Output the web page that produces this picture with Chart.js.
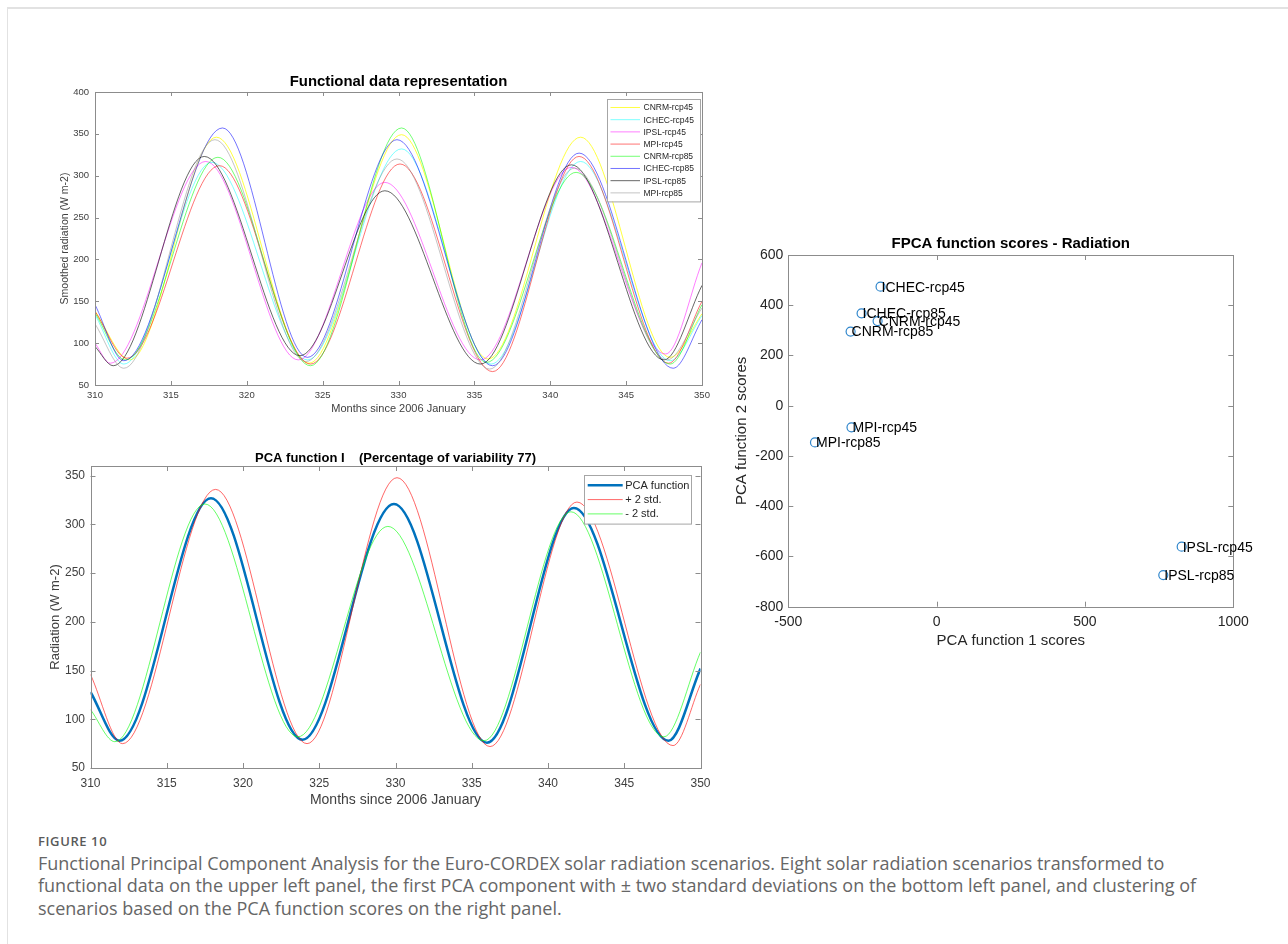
<!DOCTYPE html>
<html>
<head>
<meta charset="utf-8">
<script src="https://cdn.jsdelivr.net/npm/chart.js@4.4.0/dist/chart.umd.min.js"></script>
<style>
  body { margin: 0; background: #fff; width: 1288px; height: 944px; overflow: hidden; position: relative; }
  .frame { position: absolute; left: 7px; top: 7px; width: 1300px; height: 960px; border-top: 2px solid #e2e2e2; border-left: 1px solid #e2e2e2; }
  canvas { position: absolute; }
  #c1 { left: 40px; top: 70px; }
  #c2 { left: 40px; top: 440px; }
  #c3 { left: 730px; top: 230px; }
  #cap { position: absolute; left: 38px; top: 830px; color: #666; font-family: 'Open Sans', sans-serif; white-space: nowrap; }
  #cap .fig { font-size: 13px; font-weight: 600; letter-spacing: 0.6px; height: 22px; line-height: 22px; color: #5a5a5a; }
  #cap .txt { font-size: 18px; line-height: 22.3px; }
</style>
</head>
<body>
<div class="frame"></div>
<canvas id="c1" width="680" height="350"></canvas>
<canvas id="c2" width="680" height="375"></canvas>
<canvas id="c3" width="540" height="430"></canvas>
<div id="cap">
  <div class="fig">FIGURE 10</div>
  <div class="txt">Functional Principal Component Analysis for the Euro-CORDEX solar radiation scenarios. Eight solar radiation scenarios transformed to<br>functional data on the upper left panel, the first PCA component with ± two standard deviations on the bottom left panel, and clustering of<br>scenarios based on the PCA function scores on the right panel.</div>
</div>
<script>
// ---- upper left: smoothed radiation per scenario, [month, W m-2] at start, troughs, peaks, end
var cnrm45  = [[310,138],[312.3,80],[318.0,346],[324.1,76],[330.2,349],[335.9,81],[342.0,346],[347.9,83],[350,135]];
var ichec45 = [[310,134],[311.9,75],[317.7,316],[324.0,80],[330.2,332],[336.1,75],[342.0,317],[347.9,79],[350,133]];
var ipsl45  = [[310,100],[311.0,76],[317.3,317],[323.4,80],[329.1,292],[335.4,80],[341.4,310],[347.6,87],[350,196]];
var mpi45   = [[310,138],[312.1,82],[318.2,312],[324.2,75],[330.1,314],[336.2,66],[341.9,323],[347.8,76],[350,150]];
var cnrm85  = [[310,136],[312.0,80],[318.1,322],[324.2,73],[330.2,357],[335.8,77],[341.7,304],[347.9,75],[350,146]];
var ichec85 = [[310,146],[311.9,79],[318.4,357],[324.0,83],[329.9,343],[336.2,73],[341.9,327],[348.1,70],[350,128]];
var ipsl85  = [[310,96],[311.2,73],[317.2,323],[323.5,85],[329.1,282],[335.4,75],[341.4,313],[347.5,80],[350,169]];
var mpi85   = [[310,123],[311.9,70],[317.9,343],[323.9,78],[329.9,320],[336.0,69],[341.6,309],[347.7,80],[350,142]];
var topNames  = ['CNRM-rcp45','ICHEC-rcp45','IPSL-rcp45','MPI-rcp45','CNRM-rcp85','ICHEC-rcp85','IPSL-rcp85','MPI-rcp85'];
var topSeries = [cnrm45, ichec45, ipsl45, mpi45, cnrm85, ichec85, ipsl85, mpi85];
var topColors = ['rgba(255,255,0,0.75)','rgba(0,255,255,0.5)','rgba(255,0,255,0.5)','rgba(255,0,0,0.55)',
                 'rgba(0,255,0,0.55)','rgba(0,0,255,0.55)','rgba(0,0,0,0.6)','rgba(140,140,140,0.5)'];
var topXTicks = [310,315,320,325,330,335,340,345,350];
var topYTicks = [50,100,150,200,250,300,350,400];

// ---- lower left: first PCA function and +/- 2 std
var pcaMean  = [[310,128],[311.9,78],[317.9,327],[323.9,79],[329.9,321],[336.0,76],[341.7,317],[347.9,78],[350,152]];
var pcaPlus  = [[310,146],[312.1,75],[318.2,336],[324.2,75],[330.1,348],[336.2,72],[341.9,323],[348.2,73],[350,136]];
var pcaMinus = [[310,110],[311.6,77],[317.5,321],[323.6,82],[329.5,298],[335.8,78],[341.5,313],[347.6,82],[350,169]];
var pcaNames = ['PCA function', '+ 2 std.', '- 2 std.'];
var botYTicks = [50,100,150,200,250,300,350];

// ---- right: FPCA scores
var scoreNames = ['ICHEC-rcp45','ICHEC-rcp85','CNRM-rcp45','CNRM-rcp85','MPI-rcp45','MPI-rcp85','IPSL-rcp45','IPSL-rcp85'];
var score1 = [-189, -253, -199, -290, -287, -410, 826, 764];
var score2 = [474, 368, 337, 295, -86, -146, -561, -674];
var scXTicks = [-500, 0, 500, 1000];
var scYTicks = [-800, -600, -400, -200, 0, 200, 400, 600];

var FONT = "'Liberation Sans', Arial, sans-serif";
var toXY = function (pts) { return pts.map(function (p) { return {x: p[0], y: p[1]}; }); };
var fixTicks = function (arr) { return function (s) { s.ticks = arr.map(function (v) { return {value: v}; }); }; };
var plain = function (v) { return String(v); };

// matlab style box with inward ticks on all four sides
var matlabBox = {
  id: 'matlabBox',
  afterDatasetsDraw: function (chart, args, o) {
    var ctx = chart.ctx, a = chart.chartArea, sx = chart.scales.x, sy = chart.scales.y;
    ctx.save();
    ctx.strokeStyle = '#8c8c8c';
    ctx.lineWidth = 1;
    ctx.beginPath();
    sx.ticks.forEach(function (t) {
      var p = Math.round(sx.getPixelForValue(t.value)) + 0.5;
      ctx.moveTo(p, a.bottom); ctx.lineTo(p, a.bottom - o.len);
      ctx.moveTo(p, a.top); ctx.lineTo(p, a.top + o.len);
    });
    sy.ticks.forEach(function (t) {
      var p = Math.round(sy.getPixelForValue(t.value)) + 0.5;
      ctx.moveTo(a.left, p); ctx.lineTo(a.left + o.len, p);
      ctx.moveTo(a.right, p); ctx.lineTo(a.right - o.len, p);
    });
    ctx.stroke();
    ctx.strokeRect(Math.round(a.left) + 0.5, Math.round(a.top) + 0.5, Math.round(a.width), Math.round(a.height));
    ctx.restore();
  }
};

// legend box inside the axes, top right
var insetLegend = {
  id: 'insetLegend',
  afterDraw: function (chart, args, o) {
    var ctx = chart.ctx, a = chart.chartArea, ds = chart.data.datasets;
    var x0 = a.right - o.right - o.width, y0 = a.top + o.top;
    var h = o.first * 2 + (ds.length - 1) * o.row;
    ctx.save();
    ctx.fillStyle = '#fff';
    ctx.fillRect(x0, y0, o.width, h);
    ctx.strokeStyle = '#a6a6a6';
    ctx.lineWidth = 1;
    ctx.strokeRect(Math.round(x0) + 0.5, Math.round(y0) + 0.5, o.width, h);
    ctx.font = o.size + 'px ' + FONT;
    ctx.textBaseline = 'middle';
    ds.forEach(function (d, i) {
      var y = y0 + o.first + i * o.row;
      ctx.strokeStyle = d.borderColor;
      ctx.lineWidth = d.borderWidth;
      ctx.beginPath();
      ctx.moveTo(x0 + o.pad, y); ctx.lineTo(x0 + o.pad + o.len, y);
      ctx.stroke();
      ctx.fillStyle = '#262626';
      ctx.fillText(d.label, x0 + o.pad + o.len + o.gap, y + 0.5);
    });
    ctx.restore();
  }
};

// scenario names next to the score markers
var pointNames = {
  id: 'pointNames',
  afterDatasetsDraw: function (chart) {
    var ctx = chart.ctx;
    ctx.save();
    ctx.font = '14px ' + FONT;
    ctx.fillStyle = '#000';
    ctx.textBaseline = 'middle';
    chart.getDatasetMeta(0).data.forEach(function (pt, i) {
      ctx.fillText(scoreNames[i], pt.x + 1, pt.y + 1);
    });
    ctx.restore();
  }
};

function lineScales(o) {
  return {
    x: {
      type: 'linear', min: 310, max: 350,
      afterBuildTicks: fixTicks(topXTicks),
      afterFit: function (s) { s.height = o.xh; },
      grid: { display: false, drawTicks: false }, border: { display: false },
      ticks: { color: '#404040', padding: o.xpad, maxRotation: 0, font: { family: FONT, size: o.tick }, callback: plain },
      title: { display: true, text: 'Months since 2006 January', color: '#404040',
               font: { family: FONT, size: o.xt }, padding: { top: 0, bottom: o.xtpad } }
    },
    y: {
      min: 50, max: o.ymax,
      afterBuildTicks: fixTicks(o.yticks),
      afterFit: function (s) { s.width = o.yw; },
      grid: { display: false, drawTicks: false }, border: { display: false },
      ticks: { color: '#404040', padding: o.ypad, font: { family: FONT, size: o.tick }, callback: plain },
      title: { display: true, text: o.ytitle, color: '#404040',
               font: { family: FONT, size: o.yt }, padding: { top: o.ytpad, bottom: 0 } }
    }
  };
}

new Chart(document.getElementById('c1'), {
  type: 'line',
  data: {
    datasets: topSeries.map(function (s, i) {
      return { label: topNames[i], data: toXY(s), borderColor: topColors[i], borderWidth: 1,
               pointRadius: 0, fill: false, cubicInterpolationMode: 'monotone', order: topSeries.length - i };
    })
  },
  plugins: [matlabBox, insetLegend],
  options: {
    responsive: false, animation: false, events: [],
    layout: { padding: { left: 0, right: 18, top: 0, bottom: 0 } },
    scales: lineScales({ xh: 35, xpad: 5, tick: 9.5, xt: 11, xtpad: 4.4, ymax: 400, yticks: topYTicks,
                         yw: 55, ypad: 6, yt: 10.5, ytpad: 18.4, ytitle: 'Smoothed radiation (W m-2)' }),
    plugins: {
      legend: { display: false }, tooltip: { enabled: false },
      title: { display: true, fullSize: false, text: 'Functional data representation', color: '#000',
               font: { family: FONT, size: 14.9, weight: 'bold' }, padding: { top: 3.1, bottom: 1.0 } },
      matlabBox: { len: 4 },
      insetLegend: { right: 2, top: 7, width: 93, first: 8.5, row: 12.2, pad: 3.5, len: 29.5, gap: 3.5, size: 8.5 }
    }
  }
});

var pcaSeries = [pcaMean, pcaPlus, pcaMinus];
var pcaColors = ['#0072BD', 'rgba(255,0,0,0.6)', 'rgba(0,255,0,0.6)'];
var pcaWidths = [2.5, 1, 1];
new Chart(document.getElementById('c2'), {
  type: 'line',
  data: {
    datasets: pcaSeries.map(function (s, i) {
      return { label: pcaNames[i], data: toXY(s), borderColor: pcaColors[i], borderWidth: pcaWidths[i],
               pointRadius: 0, fill: false, cubicInterpolationMode: 'monotone', order: pcaSeries.length - i };
    })
  },
  plugins: [matlabBox, insetLegend],
  options: {
    responsive: false, animation: false, events: [],
    layout: { padding: { left: 0, right: 19.5, top: 0, bottom: 0 } },
    scales: lineScales({ xh: 47, xpad: 8.5, tick: 12, xt: 14, xtpad: 6.6, ymax: 360, yticks: botYTicks,
                         yw: 50.5, ypad: 5.5, yt: 13, ytpad: 7.5, ytitle: 'Radiation (W m-2)' }),
    plugins: {
      legend: { display: false }, tooltip: { enabled: false },
      title: { display: true, fullSize: false, text: 'PCA function I    (Percentage of variability 77)', color: '#000',
               font: { family: FONT, size: 13, weight: 'bold' }, padding: { top: 10.2, bottom: 0.2 } },
      matlabBox: { len: 5 },
      insetLegend: { right: 9.5, top: 9.3, width: 107, first: 10, row: 14.3, pad: 3.7, len: 35, gap: 2.5, size: 11 }
    }
  }
});

new Chart(document.getElementById('c3'), {
  type: 'scatter',
  data: {
    datasets: [{
      label: 'scores',
      data: score1.map(function (v, i) { return { x: v, y: score2[i] }; }),
      pointRadius: 4.5, pointBorderWidth: 1.2, pointBorderColor: '#2f86cc', pointBackgroundColor: 'rgba(0,0,0,0)'
    }]
  },
  plugins: [matlabBox, pointNames],
  options: {
    responsive: false, animation: false, events: [],
    layout: { padding: { left: 0, right: 36.7, top: 0, bottom: 0 } },
    scales: {
      x: {
        type: 'linear', min: -500, max: 1000,
        afterBuildTicks: fixTicks(scXTicks),
        afterFit: function (s) { s.height = 53.3; },
        grid: { display: false, drawTicks: false }, border: { display: false },
        ticks: { color: '#262626', padding: 7.5, maxRotation: 0, font: { family: FONT, size: 14 }, callback: plain },
        title: { display: true, text: 'PCA function 1 scores', color: '#262626',
                 font: { family: FONT, size: 15 }, padding: { top: 0, bottom: 10 } }
      },
      y: {
        min: -800, max: 600,
        afterBuildTicks: fixTicks(scYTicks),
        afterFit: function (s) { s.width = 58.3; },
        grid: { display: false, drawTicks: false }, border: { display: false },
        ticks: { color: '#262626', padding: 5, font: { family: FONT, size: 14 }, callback: plain },
        title: { display: true, text: 'PCA function 2 scores', color: '#262626',
                 font: { family: FONT, size: 15 }, padding: { top: 3, bottom: 0 } }
      }
    },
    plugins: {
      legend: { display: false }, tooltip: { enabled: false },
      title: { display: true, fullSize: false, text: 'FPCA function scores - Radiation', color: '#000',
               font: { family: FONT, size: 15, weight: 'bold' }, padding: { top: 5, bottom: 2 } },
      matlabBox: { len: 5 }
    }
  }
});
</script>
</body>
</html>
